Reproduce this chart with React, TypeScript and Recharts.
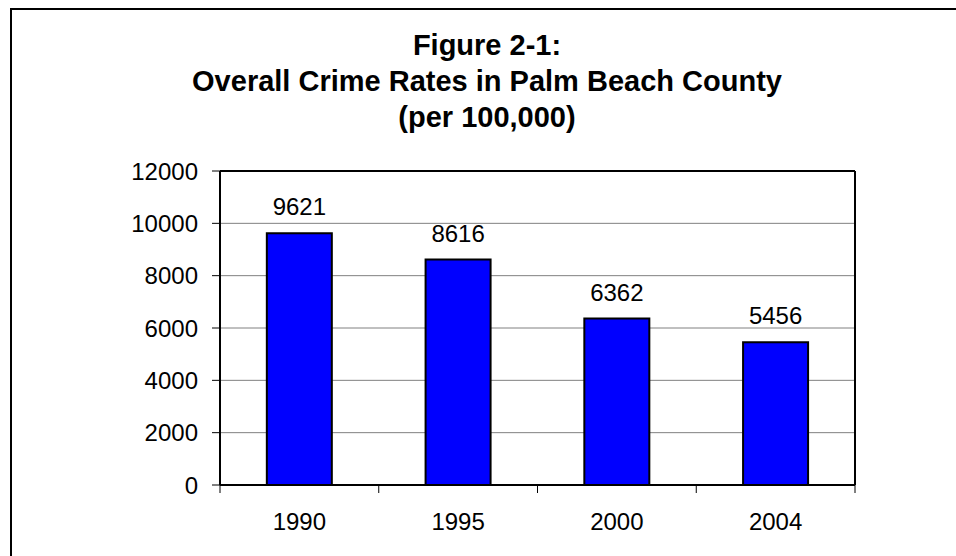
import { Bar, BarChart, CartesianGrid, LabelList, XAxis, YAxis } from "recharts";

const years = ["1990", "1995", "2000", "2004"];
const rates = [9621, 8616, 6362, 5456];
const yTicks = [0, 2000, 4000, 6000, 8000, 10000, 12000];

const titleLines = ["Figure 2-1:", "Overall Crime Rates in Palm Beach County", "(per 100,000)"];

const data = years.map((y, i) => ({ year: y, rate: rates[i] }));

const FONT = '"Liberation Sans", Arial, sans-serif';
const tickText = { fontSize: 24, fill: "#000", fontFamily: FONT };
const TICK_SIZE = 8;
const TICK_GAP = 20;

// year label in the middle of the band, tick marks on the band edges
function YearTick(props: any) {
  const { x, y, payload, width, visibleTicksCount } = props;
  const half = payload.offset || width / visibleTicksCount / 2;
  const axisY = y - TICK_SIZE - TICK_GAP;
  const last = payload.index === visibleTicksCount - 1;
  return (
    <g>
      <line x1={x - half} x2={x - half} y1={axisY} y2={axisY + TICK_SIZE} stroke="#000" />
      {last && <line x1={x + half} x2={x + half} y1={axisY} y2={axisY + TICK_SIZE} stroke="#000" />}
      <text x={x} y={y} dy="0.71em" textAnchor="middle" {...tickText}>
        {payload.value}
      </text>
    </g>
  );
}

export default function App() {
  return (
    <div style={{ position: "absolute", left: 0, top: 0, width: 956, height: 556, overflow: "hidden", background: "#fff" }}>
      <div style={{ position: "absolute", left: 10, top: 8, width: 980, height: 600, border: "2px solid #000" }} />
      <div
        style={{
          position: "absolute", left: 0, top: 27, width: 974, textAlign: "center",
          fontFamily: FONT, fontWeight: "bold", fontSize: 29, lineHeight: "36px", color: "#000",
        }}
      >
        {titleLines.map((t) => (
          <div key={t}>{t}</div>
        ))}
      </div>
      <BarChart
        width={956}
        height={556}
        data={data}
        margin={{ top: 170, right: 100, left: 160, bottom: 21 }}
        barCategoryGap="29.5%"
        style={{ position: "absolute", left: 0, top: 0 }}
      >
        <CartesianGrid vertical={false} stroke="#808080" strokeWidth={1} />
        <XAxis
          dataKey="year"
          height={50}
          tickLine={false}
          axisLine={{ stroke: "#000", strokeWidth: 2 }}
          tickSize={TICK_SIZE}
          tickMargin={TICK_GAP}
          tick={<YearTick />}
          interval={0}
        />
        <XAxis
          xAxisId="top"
          orientation="top"
          type="number"
          domain={[0, 1]}
          allowDataOverflow
          height={1}
          tick={false}
          tickLine={false}
          axisLine={{ stroke: "#000", strokeWidth: 2 }}
        />
        <YAxis
          width={60}
          domain={[0, 12000]}
          ticks={yTicks}
          interval={0}
          tickSize={TICK_SIZE}
          tickMargin={14}
          tick={tickText}
          tickLine={{ stroke: "#000", strokeWidth: 1 }}
          axisLine={{ stroke: "#000", strokeWidth: 2 }}
        />
        <YAxis
          yAxisId="right"
          orientation="right"
          width={1}
          domain={[0, 12000]}
          allowDataOverflow
          tick={false}
          tickLine={false}
          axisLine={{ stroke: "#000", strokeWidth: 2 }}
        />
        <Bar dataKey="rate" fill="#0000ff" stroke="#000" strokeWidth={2} isAnimationActive={false}>
          <LabelList dataKey="rate" position="top" offset={18} style={tickText} />
        </Bar>
      </BarChart>
    </div>
  );
}
